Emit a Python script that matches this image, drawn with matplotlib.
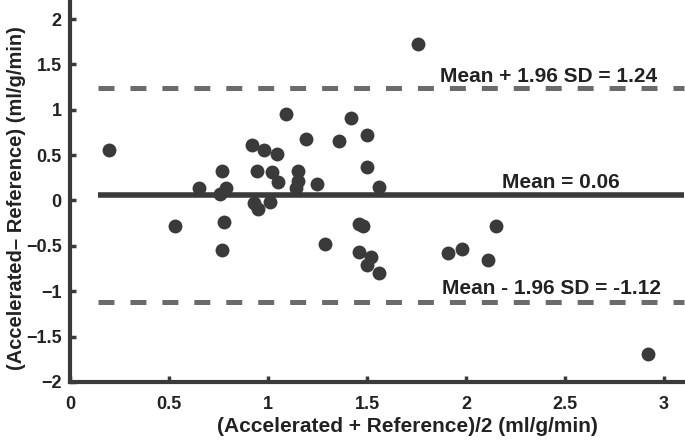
import matplotlib
matplotlib.use("Agg")
import matplotlib.pyplot as plt

# Bland-Altman data
mean_vals = [0.20, 0.53, 0.65, 0.76, 0.77, 0.79, 0.78, 0.77, 0.92, 0.945,
             0.93, 0.95, 0.98, 1.01, 1.02, 1.045, 1.05, 1.09, 1.14, 1.15,
             1.15, 1.19, 1.25, 1.29, 1.36, 1.42, 1.46, 1.48, 1.46, 1.50,
             1.50, 1.50, 1.52, 1.56, 1.56, 1.76, 1.91, 1.98, 2.11, 2.15, 2.92]
diff_vals = [0.56, -0.28, 0.14, 0.07, 0.32, 0.14, -0.24, -0.55, 0.61, 0.32,
             -0.03, -0.09, 0.56, -0.02, 0.31, 0.51, 0.20, 0.95, 0.14, 0.21,
             0.32, 0.68, 0.18, -0.48, 0.66, 0.91, -0.26, -0.28, -0.57, 0.72,
             0.37, -0.71, -0.62, 0.15, -0.80, 1.72, -0.58, -0.54, -0.66, -0.28, -1.69]
mean_diff = 0.06
upper_loa = 1.24
lower_loa = -1.12

plt.rcParams['font.family'] = ['Liberation Sans', 'DejaVu Sans']
plt.rcParams['font.weight'] = 'bold'
plt.rcParams['lines.scale_dashes'] = False

dark = '#3a3a3a'
grey = '#6b6b6b'

fig = plt.figure(figsize=(6.85, 4.40), dpi=100)
ax = fig.add_axes([0.102, 0.132, 0.898, 0.868])

ax.plot([0.14, 3.1], [mean_diff, mean_diff], color=dark, lw=4, solid_capstyle='butt', zorder=2)
for lim in (upper_loa, lower_loa):
    ax.plot([0.14, 3.1], [lim, lim], color=grey, lw=3.6, dashes=(11.5, 11.5),
            dash_capstyle='butt', zorder=2)

ax.plot(mean_vals, diff_vals, 'o', color=dark, markersize=10, markeredgewidth=0, zorder=3)

ax.text(2.415, 1.37, 'Mean + 1.96 SD = 1.24', ha='center', va='center',
        fontsize=15, fontweight='bold', color='#222222')
ax.text(2.48, 0.20, 'Mean = 0.06', ha='center', va='center',
        fontsize=15, fontweight='bold', color='#222222')
ax.text(2.43, -0.975, 'Mean - 1.96 SD = -1.12', ha='center', va='center',
        fontsize=15, fontweight='bold', color='#222222')

ax.set_xlim(0, 3.106)
ax.set_ylim(-2, 2.21)
ax.set_xticks([0, 0.5, 1, 1.5, 2, 2.5, 3])
ax.set_xticklabels(['0', '0.5', '1', '1.5', '2', '2.5', '3'])
ax.set_yticks([-2, -1.5, -1, -0.5, 0, 0.5, 1, 1.5, 2])
ax.set_yticklabels(['\u22122', '\u22121.5', '\u22121', '\u22120.5', '0', '0.5', '1', '1.5', '2'])

for side in ('top', 'right'):
    ax.spines[side].set_visible(False)
for side in ('left', 'bottom'):
    ax.spines[side].set_linewidth(3)
    ax.spines[side].set_color(dark)
ax.tick_params(direction='in', length=4, width=2.5, color=dark,
               labelsize=13, labelcolor='#222222', pad=6)
ax.tick_params(axis='x', pad=10)

ax.set_xlabel('(Accelerated + Reference)/2 (ml/g/min)', fontsize=15,
              fontweight='bold', color='#222222')
ax.xaxis.set_label_coords(0.548, -0.092)
ax.set_ylabel('(Accelerated\u2013 Reference) (ml/g/min)', fontsize=14.5,
              fontweight='bold', color='#222222')
ax.yaxis.set_label_coords(-0.072, 0.482)

fig.savefig('out.png', dpi=100)
